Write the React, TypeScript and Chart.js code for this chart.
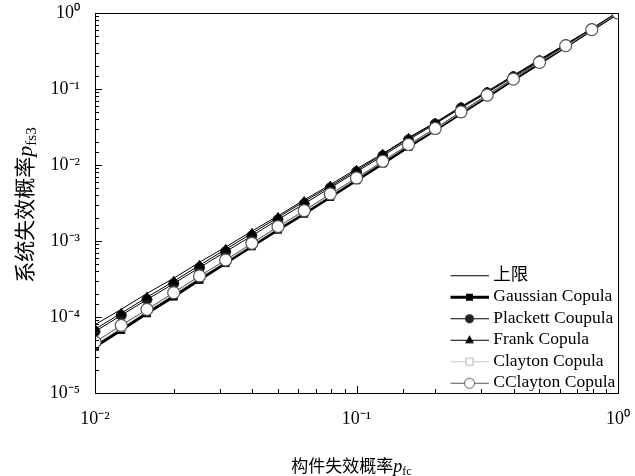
import React, { useEffect, useRef } from 'react';
import { Chart, registerables } from 'chart.js';

Chart.register(...registerables);

// component failure probability (x)
const pfc = [0.01, 0.0126, 0.0158, 0.02, 0.0251, 0.0316, 0.0398, 0.0501, 0.0631, 0.0794, 0.1,
  0.126, 0.158, 0.2, 0.251, 0.316, 0.398, 0.501, 0.631, 0.794, 1];

// system failure probability (y) per series
const upperLimit = [7.94e-5, 1.26e-4, 2.04e-4, 3.24e-4, 5.25e-4, 8.32e-4, 1.35e-3, 2.14e-3, 3.47e-3, 5.5e-3, 8.91e-3,
  0.0141, 0.0229, 0.0363, 0.0589, 0.0933, 0.151, 0.245, 0.389, 0.625, 1];
const gaussian = [4.07e-5, 6.76e-5, 1.12e-4, 1.86e-4, 3.09e-4, 5.13e-4, 8.51e-4, 1.41e-3, 2.29e-3, 3.8e-3, 6.31e-3,
  0.0105, 0.0174, 0.0288, 0.0479, 0.0794, 0.132, 0.219, 0.363, 0.603, 1];
const plackett = [6.46e-5, 1.05e-4, 1.7e-4, 2.75e-4, 4.47e-4, 7.24e-4, 1.17e-3, 1.91e-3, 3.09e-3, 5.01e-3, 8.13e-3,
  0.0132, 0.0214, 0.0347, 0.0562, 0.0891, 0.145, 0.234, 0.38, 0.617, 1];
const frank = [6.92e-5, 1.12e-4, 1.82e-4, 2.95e-4, 4.79e-4, 7.76e-4, 1.26e-3, 2.04e-3, 3.31e-3, 5.25e-3, 8.51e-3,
  0.0138, 0.0224, 0.0355, 0.0575, 0.0912, 0.148, 0.24, 0.389, 0.617, 1];
const clayton = [4.37e-5, 7.24e-5, 1.2e-4, 2.0e-4, 3.31e-4, 5.37e-4, 8.91e-4, 1.48e-3, 2.4e-3, 3.98e-3, 6.61e-3,
  0.011, 0.0182, 0.0295, 0.049, 0.0813, 0.135, 0.224, 0.363, 0.603, 1];
const cclayton = [4.68e-5, 7.76e-5, 1.26e-4, 2.09e-4, 3.47e-4, 5.62e-4, 9.33e-4, 1.55e-3, 2.51e-3, 4.17e-3, 6.76e-3,
  0.0112, 0.0186, 0.0302, 0.0501, 0.0832, 0.135, 0.224, 0.372, 0.603, 1];

const seriesLabels = ['上限', 'Gaussian Copula', 'Plackett Coupula', 'Frank Copula', 'Clayton Copula', 'CClayton Copula'];

const xTickValues = [0.01, 0.1, 1];
const xTickLabels = ['10⁻²', '10⁻¹', '10⁰'];
const yTickValues = [1e-5, 1e-4, 1e-3, 1e-2, 1e-1, 1];
const yTickLabels = ['10⁻⁵', '10⁻⁴', '10⁻³', '10⁻²', '10⁻¹', '10⁰'];

const xTitleMain = '构件失效概率';
const xTitleSym = 'p';
const xTitleSub = 'fc';
const yTitleMain = '系统失效概率';
const yTitleSym = 'p';
const yTitleSub = 'fs3';

const SERIF = '"Liberation Serif", "Times New Roman", "Noto Sans CJK SC", serif';
const CJK = '"Liberation Serif", "Noto Sans CJK SC", serif';

function labelFor(values: number[], labels: string[], v: number): string {
  for (let i = 0; i < values.length; i++) {
    if (Math.abs(Math.log10(v) - Math.log10(values[i])) < 1e-6) return labels[i];
  }
  return '';
}

function isDecade(v: number) {
  const l = Math.log10(v);
  return Math.abs(l - Math.round(l)) < 1e-6;
}

function legendImage(kind: string): HTMLCanvasElement {
  const w = 39, h = 14;
  const c = document.createElement('canvas');
  c.width = w; c.height = h;
  const g = c.getContext('2d') as CanvasRenderingContext2D;
  const cy = 7.5, cx = w / 2;
  const line = (color: string, width: number, yy: number) => {
    g.strokeStyle = color; g.lineWidth = width;
    g.beginPath(); g.moveTo(0, yy); g.lineTo(w, yy); g.stroke();
  };
  if (kind === 'upper') {
    line('#000', 1, cy);
  } else if (kind === 'gaussian') {
    line('#000', 3, cy);
    g.fillStyle = '#000'; g.fillRect(cx - 3.5, cy - 3.5, 7, 7);
  } else if (kind === 'plackett') {
    line('#000', 1, cy);
    g.fillStyle = '#222'; g.beginPath(); g.arc(cx, cy, 4.5, 0, Math.PI * 2); g.fill();
  } else if (kind === 'frank') {
    line('#000', 1, cy);
    g.fillStyle = '#000'; g.beginPath();
    g.moveTo(cx, cy - 5); g.lineTo(cx + 4.5, cy + 3); g.lineTo(cx - 4.5, cy + 3); g.closePath(); g.fill();
  } else if (kind === 'clayton') {
    line('#c8c8c8', 1, cy);
    g.fillStyle = '#fff'; g.strokeStyle = '#b8b8b8'; g.lineWidth = 1;
    g.fillRect(cx - 3.5, cy - 3.5, 7, 7); g.strokeRect(cx - 3.5, cy - 3.5, 7, 7);
  } else {
    line('#555', 1, cy);
    g.fillStyle = '#fff'; g.strokeStyle = '#555'; g.lineWidth = 1;
    g.beginPath(); g.arc(cx, cy, 5, 0, Math.PI * 2); g.fill(); g.stroke();
  }
  return c;
}

function drawRich(ctx: CanvasRenderingContext2D, main: string, sym: string, sub: string,
  cx: number, baseline: number, size: number) {
  const fMain = `${size}px ${CJK}`;
  const fSym = `italic ${size + 1}px ${SERIF}`;
  const fSub = `${Math.round(size * 0.7)}px ${SERIF}`;
  ctx.font = fMain; const w1 = ctx.measureText(main).width;
  ctx.font = fSym; const w2 = ctx.measureText(sym).width;
  ctx.font = fSub; const w3 = ctx.measureText(sub).width;
  let x = cx - (w1 + w2 + w3) / 2;
  ctx.textAlign = 'left';
  ctx.textBaseline = 'alphabetic';
  ctx.fillStyle = '#000';
  ctx.font = fMain; ctx.fillText(main, x, baseline); x += w1;
  ctx.font = fSym; ctx.fillText(sym, x, baseline); x += w2;
  ctx.font = fSub; ctx.fillText(sub, x, baseline + size * 0.2);
}

const framePlugin = {
  id: 'frameTicksTitles',
  afterLayout(chart: any) {
    const lg = chart.legend;
    if (lg) {
      lg.left = 450.5;
      lg.top = 262.5;
      lg.right = lg.left + lg.width;
      lg.bottom = lg.top + lg.height;
    }
  },
  afterDraw(chart: any) {
    const { ctx, chartArea: a, scales } = chart;
    const xs = scales.x, ys = scales.y;
    ctx.save();
    ctx.strokeStyle = '#000';
    ctx.lineWidth = 1;
    ctx.beginPath();
    xs.ticks.forEach((t: any) => {
      const px = Math.round(xs.getPixelForValue(t.value)) + 0.5;
      const len = isDecade(t.value) ? 7 : 4;
      ctx.moveTo(px, a.bottom); ctx.lineTo(px, a.bottom - len);
    });
    ys.ticks.forEach((t: any) => {
      const py = Math.round(ys.getPixelForValue(t.value)) + 0.5;
      const len = isDecade(t.value) ? 7 : 4;
      ctx.moveTo(a.left, py); ctx.lineTo(a.left + len, py);
    });
    ctx.stroke();
    ctx.strokeRect(Math.round(a.left) + 0.5, Math.round(a.top) + 0.5,
      Math.round(a.right - a.left), Math.round(a.bottom - a.top));

    drawRich(ctx, xTitleMain, xTitleSym, xTitleSub, (a.left + a.right) / 2 - 5, 472, 17);
    ctx.save();
    ctx.translate(32, (a.top + a.bottom) / 2 + 2);
    ctx.rotate(-Math.PI / 2);
    drawRich(ctx, yTitleMain, yTitleSym, yTitleSub, 0, 0, 21);
    ctx.restore();
    ctx.restore();
  },
};

export default function App() {
  const ref = useRef<HTMLCanvasElement | null>(null);

  useEffect(() => {
    if (!ref.current) return;
    const kinds = ['upper', 'gaussian', 'plackett', 'frank', 'clayton', 'cclayton'];
    const legendImgs = kinds.map(legendImage);
    const pts = (ys: number[]) => pfc.map((x, i) => ({ x, y: ys[i] }));

    const chart = new Chart(ref.current, {
      type: 'line',
      data: {
        datasets: [
          {
            label: seriesLabels[0], data: pts(upperLimit), borderColor: '#000', borderWidth: 1,
            pointRadius: 0, order: 6,
          },
          {
            label: seriesLabels[1], data: pts(gaussian), borderColor: '#000', borderWidth: 3,
            pointStyle: 'rect', pointRadius: 5, pointBackgroundColor: '#000', pointBorderColor: '#000',
            pointBorderWidth: 1, order: 5,
          },
          {
            label: seriesLabels[2], data: pts(plackett), borderColor: '#000', borderWidth: 1,
            pointStyle: 'circle', pointRadius: 5, pointBackgroundColor: '#1a1a1a', pointBorderColor: '#1a1a1a',
            pointBorderWidth: 1, order: 4,
          },
          {
            label: seriesLabels[3], data: pts(frank), borderColor: '#000', borderWidth: 1,
            pointStyle: 'triangle', pointRadius: 5, pointBackgroundColor: '#000', pointBorderColor: '#000',
            pointBorderWidth: 1, order: 3,
          },
          {
            label: seriesLabels[4], data: pts(clayton), borderColor: '#c8c8c8', borderWidth: 1,
            pointStyle: 'rect', pointRadius: 5, pointBackgroundColor: '#fff', pointBorderColor: '#b0b0b0',
            pointBorderWidth: 1, order: 2,
          },
          {
            label: seriesLabels[5], data: pts(cclayton), borderColor: '#555', borderWidth: 1,
            pointStyle: 'circle', pointRadius: 6, pointBackgroundColor: '#fff', pointBorderColor: '#555',
            pointBorderWidth: 1.2, order: 1,
          },
        ],
      },
      options: {
        animation: false,
        responsive: false,
        events: [],
        layout: { padding: { left: 0, top: 13, right: 17, bottom: 0 } },
        elements: { line: { tension: 0, fill: false } },
        scales: {
          x: {
            type: 'logarithmic',
            min: 0.01,
            max: 1,
            grid: { display: false },
            border: { display: false },
            afterFit: (s: any) => { s.height = 83; s.paddingLeft = 0; s.paddingRight = 0; },
            ticks: {
              autoSkip: false,
              maxRotation: 0,
              padding: 7,
              color: '#000',
              font: { family: SERIF, size: 18 },
              callback: (v: any) => labelFor(xTickValues, xTickLabels, Number(v)),
            },
          },
          y: {
            type: 'logarithmic',
            min: 1e-5,
            max: 1,
            grid: { display: false },
            border: { display: false },
            afterFit: (s: any) => { s.width = 95; s.paddingTop = 0; s.paddingBottom = 0; },
            ticks: {
              autoSkip: false,
              padding: 7,
              color: '#000',
              font: { family: SERIF, size: 18 },
              callback: (v: any) => labelFor(yTickValues, yTickLabels, Number(v)),
            },
          },
        },
        plugins: {
          tooltip: { enabled: false },
          title: { display: false },
          legend: {
            display: true,
            position: 'chartArea' as any,
            align: 'start',
            labels: {
              usePointStyle: true,
              pointStyleWidth: 30,
              boxHeight: 17,
              padding: 4,
              color: '#000',
              font: { family: CJK, size: 17.5 },
              generateLabels: (ch: any) => ch.data.datasets.map((ds: any, i: number) => ({
                text: ds.label,
                pointStyle: legendImgs[i],
                datasetIndex: i,
                hidden: false,
                lineWidth: 0,
                strokeStyle: 'rgba(0,0,0,0)',
                fillStyle: 'rgba(0,0,0,0)',
                fontColor: '#000',
              })),
            },
          },
        },
      } as any,
      plugins: [framePlugin],
    });
    return () => chart.destroy();
  }, []);

  return (
    <div style={{ position: 'fixed', left: 0, top: 0, width: 635, height: 476, background: '#fff' }}>
      <canvas ref={ref} width={635} height={476} style={{ display: 'block' }} />
    </div>
  );
}
